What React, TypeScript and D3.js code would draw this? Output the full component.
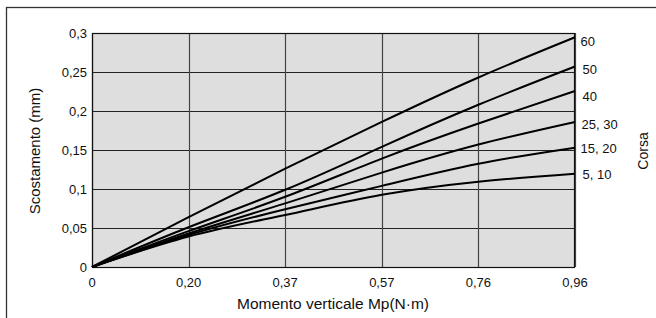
import React from "react";
import * as d3 from "d3";

const xTickLabels = ["0", "0,20", "0,37", "0,57", "0,76", "0,96"];
const yTicks = [0, 0.05, 0.1, 0.15, 0.2, 0.25, 0.3];
const seriesNames = ["60", "50", "40", "25, 30", "15, 20", "5, 10"];
const s60 = [0, 0.064, 0.126, 0.186, 0.243, 0.2945];
const s50 = [0, 0.051, 0.099, 0.154, 0.208, 0.257];
const s40 = [0, 0.046, 0.09, 0.139, 0.184, 0.2256];
const s2530 = [0, 0.043, 0.0816, 0.121, 0.157, 0.186];
const s1520 = [0, 0.041, 0.074, 0.104, 0.1324, 0.153];
const s510 = [0, 0.039, 0.0667, 0.0925, 0.1094, 0.1197];
const allSeries = [s60, s50, s40, s2530, s1520, s510];

const W = 656, H = 318;
const L = 92, R = 575, T = 33, B = 267;
const font = "'Liberation Sans', Arial, sans-serif";
const labelDy = [4.4, 2.3, 5.7, 2.3, 0.3, 0.3];
const labelDx = [0, 2, 2, 1, 0, 2];

export default function App() {
  const x = d3.scaleLinear().domain([0, xTickLabels.length - 1]).range([L, R]);
  const y = d3.scaleLinear().domain([0, 0.3]).range([B, T]);
  const line = d3
    .line<number>()
    .x((_, i) => x(i))
    .y((d) => y(d))
    .curve(d3.curveNatural);
  return (
    <svg width={W} height={H} style={{ position: "absolute", left: 0, top: 0 }}>
      <rect x={0} y={0} width={W} height={H} fill="#fff" />
      <rect x={6.5} y={7.5} width={W + 10} height={H + 10} fill="none" stroke="#333" strokeWidth={1.3} />
      <rect x={L} y={T} width={R - L} height={B - T} fill="#dedede" />
      {yTicks.map((t) => (
        <line key={"h" + t} x1={L} x2={R} y1={Math.round(y(t)) + 0.5} y2={Math.round(y(t)) + 0.5} stroke="#222" strokeWidth={1} />
      ))}
      {xTickLabels.map((_, i) => (
        <line key={"v" + i} x1={Math.round(x(i)) + 0.5} x2={Math.round(x(i)) + 0.5} y1={T} y2={B} stroke="#444" strokeWidth={1.2} />
      ))}
      <rect x={L + 0.5} y={T + 0.5} width={R - L - 1} height={B - T} fill="none" stroke="#111" strokeWidth={1.2} />
      {allSeries.map((s, k) => (
        <path key={"s" + k} d={line(s) || ""} fill="none" stroke="#000" strokeWidth={2} />
      ))}
      {yTicks.map((t) => (
        <text key={"yl" + t} x={87} y={y(t) + 5} textAnchor="end" fontFamily={font} fontSize={13} fill="#111">
          {String(t).replace(".", ",")}
        </text>
      ))}
      {xTickLabels.map((lab, i) => (
        <text key={"xl" + i} x={x(i)} y={287} textAnchor="middle" fontFamily={font} fontSize={13} fill="#111">
          {lab}
        </text>
      ))}
      {seriesNames.map((n, k) => (
        <text
          key={"sn" + k}
          x={580.5 + labelDx[k]}
          y={y(allSeries[k][allSeries[k].length - 1]) + 4.7 + labelDy[k]}
          fontFamily={font}
          fontSize={13}
          fill="#111"
        >
          {n}
        </text>
      ))}
      <text x={333} y={309} textAnchor="middle" fontFamily={font} fontSize={15.5} fill="#111">
        Momento verticale Mp(N·m)
      </text>
      <text transform={`translate(39.5,151) rotate(-90)`} textAnchor="middle" fontFamily={font} fontSize={15} fill="#111">
        Scostamento (mm)
      </text>
      <text transform={`translate(648,151) rotate(-90)`} textAnchor="middle" fontFamily={font} fontSize={14} fill="#111">
        Corsa
      </text>
    </svg>
  );
}
